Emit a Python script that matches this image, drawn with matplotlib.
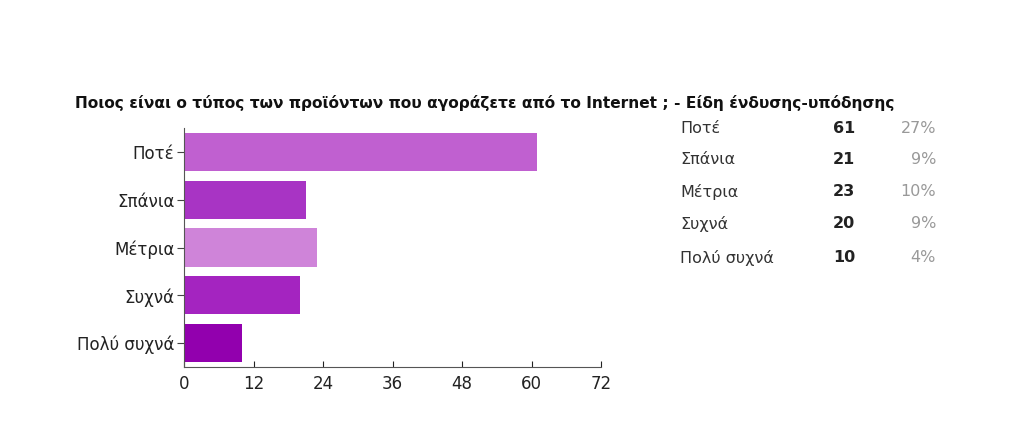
import matplotlib
matplotlib.use("Agg")
import matplotlib.pyplot as plt

categories = ["Ποτέ", "Σπάνια", "Μέτρια", "Συχνά", "Πολύ συχνά"]
counts = [61, 21, 23, 20, 10]
percents = ["27%", "9%", "10%", "9%", "4%"]
xticks = [0, 12, 24, 36, 48, 60, 72]
colors = ["#c060d0", "#a834c4", "#cf84d9", "#a424c0", "#9200ae"]
title = "Ποιος είναι ο τύπος των προϊόντων που αγοράζετε από το Internet ; - Είδη ένδυσης-υπόδησης"

plt.rcParams['font.family'] = ['DejaVu Sans']

fig = plt.figure(figsize=(10.24, 4.42), dpi=100)
ax = fig.add_axes([184/1024, 1-367/442, (601-184)/1024, (367-128)/442])

y = list(range(len(categories)))
ax.barh(y, counts, height=0.8, color=colors)
ax.set_ylim(len(categories)-0.5, -0.5)
ax.set_xlim(0, 72)
ax.set_xticks(xticks)
ax.set_yticks(y)
ax.set_yticklabels(categories, fontsize=12, color="#222222")
ax.tick_params(axis='x', labelsize=12, colors="#222222", length=4, width=0.8, direction='in', pad=6)
ax.tick_params(axis='y', length=5, width=0.8, colors="#444444", labelcolor="#222222", pad=2)
for s in ["top", "right"]:
    ax.spines[s].set_visible(False)
for s in ["left", "bottom"]:
    ax.spines[s].set_color("#555555")
    ax.spines[s].set_linewidth(0.8)

fig.text(75/1024, 1-103/442, title, fontsize=11.1, fontweight='bold', color="#111111", va='center', ha='left')

rows_y = [128, 160, 192, 224, 258]
for lab, c, p, yy in zip(categories, counts, percents, rows_y):
    fy = 1 - yy/442
    fig.text(680/1024, fy, lab, fontsize=11.5, color="#333333", va='center', ha='left')
    fig.text(855/1024, fy, str(c), fontsize=11.5, fontweight='bold', color="#222222", va='center', ha='right')
    fig.text(936/1024, fy, p, fontsize=11.5, color="#999999", va='center', ha='right')

fig.savefig("out.png", dpi=100, facecolor="white")
